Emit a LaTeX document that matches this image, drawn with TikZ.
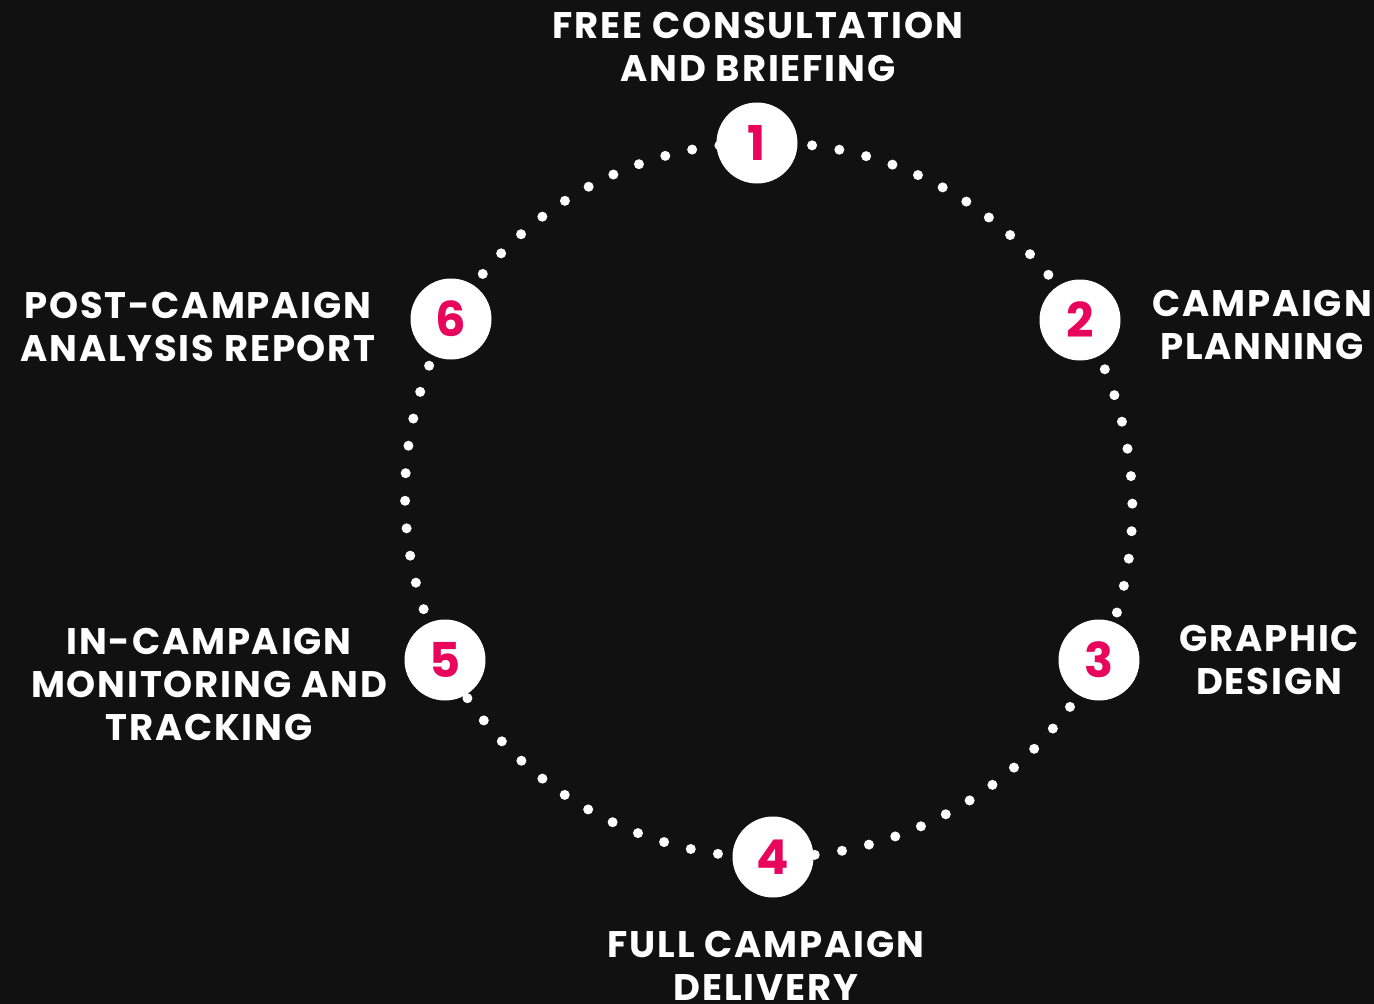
\documentclass[tikz,border=0pt]{standalone}
\usepackage{fontspec}
\setmainfont{Poppins}
\newfontfamily\captionfont{Poppins}[LetterSpace=5]
\definecolor{bgdark}{HTML}{111111}
\definecolor{stepred}{HTML}{E8065C}
\pgfdeclarelayer{backdrop}
\pgfdeclarelayer{dots}
\pgfsetlayers{backdrop,dots,main}
\begin{document}
\begin{tikzpicture}[x=1pt,y=1pt,
  stepnode/.style={circle, fill=white, minimum size=81pt, inner sep=0pt,
    text=stepred, font=\bfseries\fontsize{48}{48}\selectfont},
  caption/.style={text=white, align=center, inner sep=0pt,
    font=\captionfont\bfseries\fontsize{37}{43}\selectfont},
  dotline/.style={draw=white, line width=10pt, line cap=round,
    dash pattern=on 0pt off 27.6pt, looseness=0.91}
]
\begin{pgfonlayer}{backdrop}
\fill[bgdark] (0,0) rectangle (1374,-1004);
\end{pgfonlayer}
\useasboundingbox (0,0) rectangle (1374,-1004);

% steps of the cycle
\node[stepnode] (n1) at (757,-143) {1};
\node[stepnode] (n2) at (1080,-320) {2};
\node[stepnode] (n3) at (1099,-660) {3};
\node[stepnode] (n4) at (773,-857) {4};
\node[stepnode] (n5) at (445,-660) {5};
\node[stepnode] (n6) at (451,-319) {6};

% dotted arcs between consecutive steps, drawn beneath the step discs
\begin{pgfonlayer}{dots}
\path[dotline] (n1.center) to[bend left=30.8] (n2.center);
\path[dotline] (n2.center) to[bend left=27.8] (n3.center);
\path[dotline] (n3.center) to[bend left=31.6] (n4.center);
\path[dotline] (n4.center) to[bend left=32.3] (n5.center);
\path[dotline] (n5.center) to[bend left=28.1] (n6.center);
\path[dotline] (n6.center) to[bend left=29.3] (n1.center);
\end{pgfonlayer}

% step captions
\node[caption] (c1) at (758,-46.5) {FREE CONSULTATION\\AND BRIEFING};
\node[caption] (c2) at (1262,-325) {CAMPAIGN\\PLANNING};
\node[caption] (c3) at (1269,-659.5) {GRAPHIC\\DESIGN};
\node[caption] (c4) at (766,-965.5) {FULL CAMPAIGN\\DELIVERY};
\node[caption] (c5) at (209,-684) {IN-CAMPAIGN\\MONITORING AND\\TRACKING};
\node[caption] (c6) at (198,-326.5) {POST-CAMPAIGN\\ANALYSIS REPORT};
\end{tikzpicture}
\end{document}
